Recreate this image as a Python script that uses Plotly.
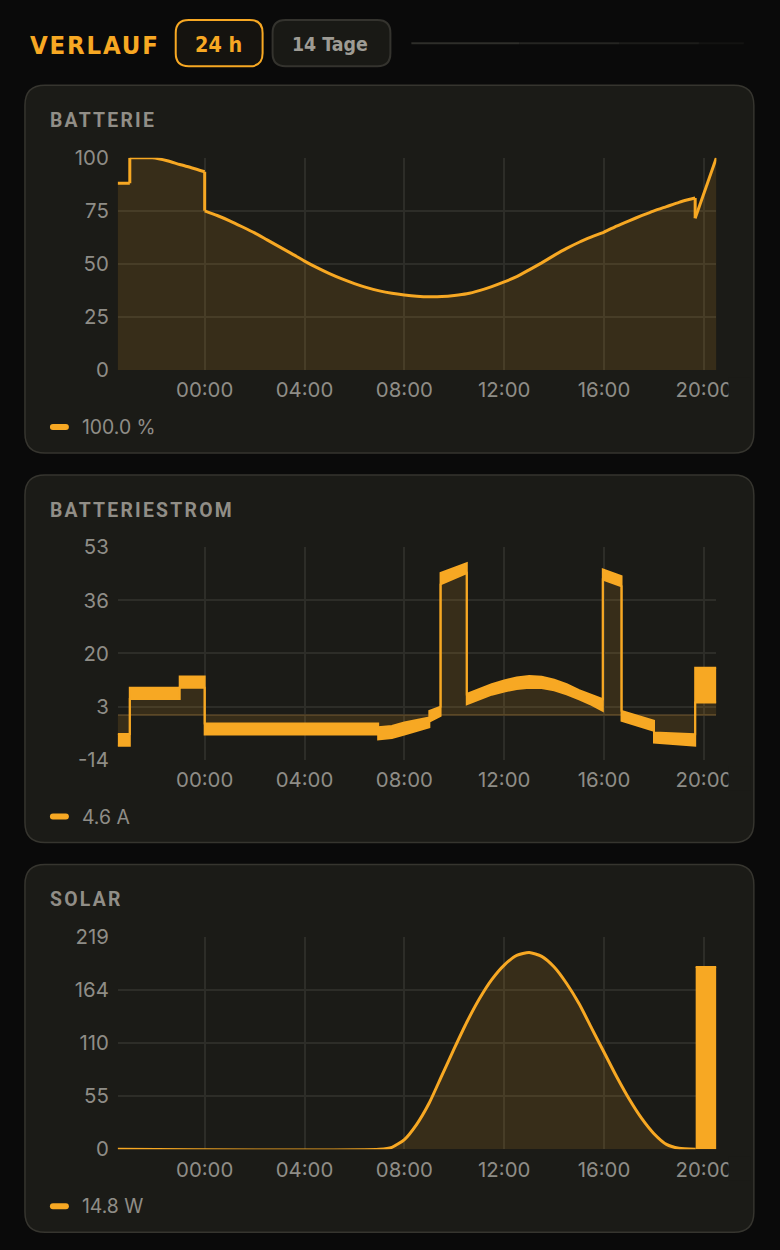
import pandas as pd
import plotly.graph_objects as go
from plotly.subplots import make_subplots

W, H = 780, 1250
# the page ends up photographed slightly shrunk (about 0.981) and moved down,
# so layout positions below are given in picture pixels and mapped back here
S, OY = 0.981, 11.6

ORANGE = "#f7a823"
FILL = "rgba(247,168,35,0.13)"
CARD = "#1b1b17"
CARD_LINE = "#36352f"
GRID = "#2d2d28"
TXT = "#8f8d87"
TITLE = "#918e87"
NUM_FONT = "Inter, Roboto, sans-serif"
HEAD_FONT = "DejaVu Sans Condensed, DejaVu Sans, sans-serif"

# hours relative to midnight of the shown day (negative = evening before)
bat_hours = [-3.5, -3.0, -3.0, -2.5, -2.1, -1.5, -1.0, -0.5, 0.0, 0.0,
             0.5, 1.0, 1.5, 2.0, 2.5, 3.0, 3.5, 4.0, 4.5, 5.0,
             5.5, 6.0, 6.5, 7.0, 7.5, 8.0, 8.5, 9.0, 9.5, 10.0,
             10.5, 11.0, 11.5, 12.0, 12.5, 13.0, 13.5, 14.0, 14.5, 15.0,
             15.5, 16.0, 16.5, 17.0, 17.5, 18.0, 18.5, 19.0, 19.4, 19.65,
             19.65, 20.5]
bat_pct = [88, 88, 100, 100, 100, 98.6, 96.8, 95.2, 93.4, 75,
           72.8, 70.3, 67.5, 64.6, 61.3, 58, 54.7, 51.3, 48.2, 45.4,
           42.9, 40.7, 38.8, 37.3, 36.2, 35.4, 34.8, 34.5, 34.6, 35.1,
           35.9, 37.4, 39.3, 41.5, 44.0, 47.2, 50.5, 54.0, 57.3, 60.2,
           62.7, 65.0, 67.8, 70.3, 72.7, 75.0, 77.0, 79.0, 80.3, 81.0,
           71.5, 100]

cur_hours = [-3.5, -3.0, -3.0, -1.0, -1.0, 0.0, 0.0, 6.95, 6.95, 7.5,
             8.0, 8.5, 9.0, 9.0, 9.45, 9.45, 10.5, 10.5, 11.0, 11.5,
             12.0, 12.5, 13.0, 13.5, 14.0, 14.5, 15.0, 15.5, 15.95, 15.95,
             16.7, 16.7, 18.0, 18.0, 19.65, 19.65, 20.5]
cur_hi = [-5.9, -5.9, 8.7, 8.7, 12.2, 12.2, -2.6, -2.6, -3.8, -3.4,
          -2.3, -1.4, -0.7, 1.4, 2.7, 44.9, 48.0, 6.7, 8.3, 9.8,
          11.0, 11.9, 12.4, 12.2, 11.2, 9.8, 7.9, 6.5, 5.1, 46.0,
          43.9, 1.4, -1.7, -5.4, -6.0, 15.0, 15.0]
cur_lo = [-9.6, -9.6, 5.1, 5.1, 8.7, 8.7, -6.1, -6.1, -7.6, -7.2,
          -6.1, -5.0, -3.8, -2.0, -0.2, 41.3, 44.9, 3.5, 5.0, 6.5,
          7.5, 8.3, 8.7, 8.6, 7.9, 6.6, 5.0, 3.3, 1.4, 42.8,
          40.7, -1.7, -4.9, -8.6, -9.6, 4.0, 4.0]

sol_hours = [-3.5, 7.0, 7.5, 8.0, 8.5, 9.0, 9.5, 10.0, 10.5, 11.0,
             11.5, 12.0, 12.5, 13.0, 13.5, 14.0, 14.5, 15.0, 15.5, 16.0,
             16.5, 17.0, 17.5, 18.0, 18.5, 19.0, 19.67]
sol_watt = [0, 0, 2, 10, 26, 48, 76, 104, 131, 155,
            175, 190, 200, 203, 199, 188, 171, 150, 125, 100,
            75, 52, 32, 16, 5, 1, 0]
sol_burst_hours = [19.67, 20.5]
sol_burst_hi = [188, 188]

titles = ["BATTERIE", "BATTERIESTROM", "SOLAR"]
legend_texts = ["100.0 %", "4.6 A", "14.8 W"]
bat_ticks = ["0", "25", "50", "75", "100"]
cur_ticks = ["-14", "3", "20", "36", "53"]
sol_ticks = ["0", "55", "110", "164", "219"]
y_ranges = [(0, 100), (-14, 53), (0, 219)]
tick_sets = [bat_ticks, cur_ticks, sol_ticks]

day = pd.Timestamp("2024-06-02")


def tx(hours):
    return [day + pd.Timedelta(hours=h) for h in hours]


def px(x):
    return (x / S) / W


def py(y):
    return 1 - ((y - OY) / S) / H


def fs(v):
    return v / S


def rrect(x0, y0, x1, y1, r):
    pts = [
        f"M {px(x0 + r)} {py(y0)}",
        f"L {px(x1 - r)} {py(y0)}",
        f"Q {px(x1)} {py(y0)} {px(x1)} {py(y0 + r)}",
        f"L {px(x1)} {py(y1 - r)}",
        f"Q {px(x1)} {py(y1)} {px(x1 - r)} {py(y1)}",
        f"L {px(x0 + r)} {py(y1)}",
        f"Q {px(x0)} {py(y1)} {px(x0)} {py(y1 - r)}",
        f"L {px(x0)} {py(y0 + r)}",
        f"Q {px(x0)} {py(y0)} {px(x0 + r)} {py(y0)}",
        "Z",
    ]
    return " ".join(pts)


def spaced(text, gap):
    return f'<span style="letter-spacing:{gap / S:.2f}px">{text}</span>'


fig = make_subplots(rows=3, cols=1)

# battery: area first, then the smooth runs between the jumps, then the jumps
fig.add_trace(go.Scatter(x=tx(bat_hours), y=bat_pct, mode="lines",
                         line=dict(width=0), fill="tozeroy",
                         fillcolor=FILL), row=1, col=1)
start = 0
for k in range(1, len(bat_hours) + 1):
    if k == len(bat_hours) or bat_hours[k] == bat_hours[k - 1]:
        fig.add_trace(go.Scatter(x=tx(bat_hours[start:k]), y=bat_pct[start:k], mode="lines",
                                 line=dict(color=ORANGE, width=3, shape="spline",
                                           smoothing=0.6)), row=1, col=1)
        if k < len(bat_hours):
            fig.add_trace(go.Scatter(x=tx(bat_hours[k - 1:k + 1]), y=bat_pct[k - 1:k + 1],
                                     mode="lines", line=dict(color=ORANGE, width=3)),
                          row=1, col=1)
        start = k

# battery current: noisy band drawn as envelope
fig.add_trace(go.Scatter(x=tx(cur_hours), y=cur_lo, mode="lines",
                         line=dict(color=ORANGE, width=2), fill="tozeroy",
                         fillcolor=FILL), row=2, col=1)
fig.add_trace(go.Scatter(x=tx(cur_hours), y=cur_hi, mode="lines",
                         line=dict(color=ORANGE, width=2), fill="tonexty",
                         fillcolor=ORANGE), row=2, col=1)

# solar
fig.add_trace(go.Scatter(x=tx(sol_hours), y=sol_watt, mode="lines",
                         line=dict(color=ORANGE, width=3, shape="spline", smoothing=0.6),
                         fill="tozeroy", fillcolor=FILL), row=3, col=1)
fig.add_trace(go.Scatter(x=tx(sol_burst_hours), y=sol_burst_hi, mode="lines",
                         line=dict(color=ORANGE, width=2), fill="tozeroy",
                         fillcolor=ORANGE), row=3, col=1)

card_tops = [84, 474, 864]
shapes = []
annotations = []

# header
shapes.append(dict(type="path", xref="paper", yref="paper", layer="below",
                   path=rrect(176, 18.5, 263, 65, 13), fillcolor="#15130f",
                   line=dict(color=ORANGE, width=2)))
shapes.append(dict(type="path", xref="paper", yref="paper", layer="below",
                   path=rrect(273, 18.5, 391, 65, 13), fillcolor="#191915",
                   line=dict(color="#34332e", width=2)))
for i, (a, b) in enumerate([(412, 520), (520, 620), (620, 700), (700, 745)]):
    shapes.append(dict(type="line", xref="paper", yref="paper", layer="below",
                       x0=px(a), x1=px(b), y0=py(42), y1=py(42),
                       line=dict(color="#2e2e2a", width=2),
                       opacity=1 - i * 0.25))
annotations.append(dict(x=px(28), y=py(44), xref="paper", yref="paper",
                        xanchor="left", yanchor="middle", showarrow=False,
                        text=spaced("VERLAUF", 1.8),
                        font=dict(family=HEAD_FONT, size=fs(25), color=ORANGE, weight="bold")))
annotations.append(dict(x=px(219), y=py(43), xref="paper", yref="paper",
                        xanchor="center", yanchor="middle", showarrow=False,
                        text="24 h",
                        font=dict(family=HEAD_FONT, size=fs(21), color=ORANGE, weight="bold")))
annotations.append(dict(x=px(330.5), y=py(43), xref="paper", yref="paper",
                        xanchor="center", yanchor="middle", showarrow=False,
                        text="14 Tage",
                        font=dict(family=HEAD_FONT, size=fs(19), color="#9e9b94", weight="bold")))

for i, top in enumerate(card_tops):
    shapes.append(dict(type="path", xref="paper", yref="paper", layer="below",
                       path=rrect(25, top, 755, top + 368, 20), fillcolor=CARD,
                       line=dict(color=CARD_LINE, width=1.5)))
    # legend swatch
    shapes.append(dict(type="path", xref="paper", yref="paper", layer="above",
                       path=rrect(50, top + 339, 69, top + 345, 3), fillcolor=ORANGE,
                       line=dict(width=0)))
    # right edge clips the last time label
    shapes.append(dict(type="rect", xref="paper", yref="paper", layer="above",
                       x0=px(729.5), x1=px(752), y0=py(top + 292), y1=py(top + 316),
                       fillcolor=CARD, line=dict(width=0)))
    annotations.append(dict(x=px(48.5), y=py(top + 35.5), xref="paper", yref="paper",
                            xanchor="left", yanchor="middle", showarrow=False,
                            text=spaced(titles[i], 2.2),
                            font=dict(family="Roboto, sans-serif", size=fs(19), color=TITLE,
                                      weight="bold")))
    annotations.append(dict(x=px(80.5), y=py(top + 342), xref="paper", yref="paper",
                            xanchor="left", yanchor="middle", showarrow=False,
                            text=legend_texts[i],
                            font=dict(family=NUM_FONT, size=fs(19), color=TXT)))

    lo, hi = y_ranges[i]
    labels = tick_sets[i]
    step = (hi - lo) / (len(labels) - 1)
    tvals = [lo + k * step for k in range(len(labels))]
    ax = "" if i == 0 else str(i + 1)
    fig.layout["xaxis" + ax].update(
        domain=[px(118), px(717.5)],
        range=[day + pd.Timedelta(hours=-3.48), day + pd.Timedelta(hours=20.5)],
        tick0=day, dtick=4 * 3600 * 1000, tickformat="%H:%M",
        showgrid=True, gridcolor=GRID, gridwidth=2, zeroline=False,
        showline=False, ticks="", ticklabelstandoff=6,
        tickfont=dict(family=NUM_FONT, size=fs(20), color=TXT),
    )
    fig.layout["yaxis" + ax].update(
        domain=[py(top + 285), py(top + 72.5)],
        range=[lo, hi], tickvals=tvals, ticktext=labels,
        showgrid=True, gridcolor=GRID, gridwidth=2,
        zeroline=(i == 1), zerolinecolor="#463a26", zerolinewidth=2,
        showline=False, ticks="", ticklabelstandoff=8,
        tickfont=dict(family=NUM_FONT, size=fs(20), color=TXT),
    )

fig.update_layout(
    width=W, height=H, margin=dict(l=0, r=0, t=0, b=0),
    paper_bgcolor="#0a0a0a", plot_bgcolor="rgba(0,0,0,0)",
    showlegend=False, shapes=shapes, annotations=annotations,
)

page_js = """
document.body.style.margin = '0';
document.body.style.background = '#0a0a0a';
document.documentElement.style.overflow = 'hidden';
var gd = document.getElementById('{plot_id}');
gd.style.position = 'fixed';
gd.style.left = '0px';
gd.style.top = '0px';
"""

fig.write_html("out.html", config={"displayModeBar": False}, post_script=page_js)
